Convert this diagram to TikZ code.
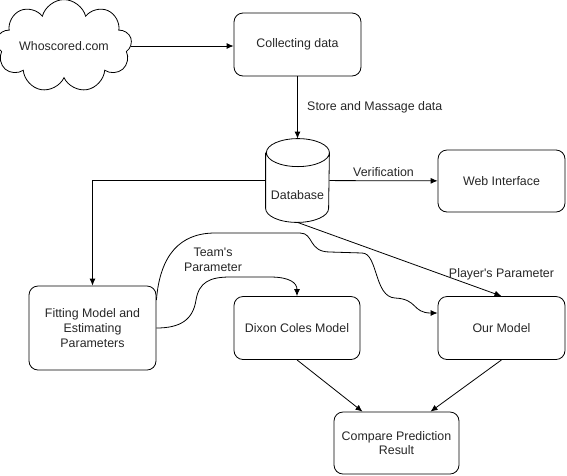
\documentclass[tikz,border=0pt]{standalone}
\usepackage{fontspec}
\setmainfont{Liberation Sans}
\usetikzlibrary{shapes.symbols,arrows.meta,positioning}

\begin{document}
\begin{tikzpicture}[x=1pt,y=1pt,>={Latex[length=7pt,width=6pt]},line width=.8pt,
  font=\fontsize{12.4}{14.8}\selectfont,
  box/.style={draw,rounded corners=9pt,minimum width=126pt,minimum height=63pt,align=center,text=black!85}]
\useasboundingbox (0,0) rectangle (567,-475);

\node[cloud,draw,cloud puffs=9,aspect=2,minimum width=128pt,minimum height=66pt,inner sep=0pt,text=black!85] (site) at (64,-46) {Whoscored.com};
\node[box,minimum width=127pt] (collect) at (297.5,-44.5) {Collecting data};
\node[minimum width=63pt,minimum height=83pt,inner sep=0pt] (db) at (297.5,-180.5) {};
\node[text=black!85] (dblabel) at (297.5,-195) {Database};
\node[box,minimum width=127pt,minimum height=62pt] (webui) at (501.5,-181) {Web Interface};
\node[box,minimum width=127pt,minimum height=84pt] (fit) at (92.5,-328) {Fitting Model and\\Estimating\\Parameters};
\node[box] (dixon) at (297,-328) {Dixon Coles Model};
\node[box,minimum width=127pt] (our) at (501.5,-328) {Our Model};
\node[box,minimum width=125pt,minimum height=62pt] (cmp) at (396.5,-443) {Compare Prediction\\Result};
\node[align=center,text=black!85] (teamlbl) at (213,-260) {Team\textquotesingle s\\Parameter};

% database cylinder
\draw ([yshift=-14pt]db.north west) -- ([yshift=14pt]db.south west)
  arc[start angle=180,end angle=360,x radius=31.5pt,y radius=14pt]
  -- ([yshift=-14pt]db.north east)
  arc[start angle=0,end angle=180,x radius=31.5pt,y radius=14pt]
  arc[start angle=180,end angle=360,x radius=31.5pt,y radius=14pt];

\draw[->] (site.east) -- (collect.west |- site.east);
\draw[->] (collect) -- (db) node[midway,right=6pt,text=black!85]{Store and Massage data};
\draw[->] (db) -- (webui) node[midway,above,text=black!85]{Verification};
\draw[->] (db.west) -| (fit.north);
\draw[->] (db.south) -- (our.north) node[pos=1,above=12pt,text=black!85]{Player\textquotesingle s Parameter};

\draw[->] (fit.east) .. controls (180,-328) and (193,-320) .. (196,-300)
  .. controls (199,-282) and (210,-277) .. (230,-277) -- (270,-277)
  .. controls (290,-277) and (297,-283) .. (dixon.north);
\draw[->] ([yshift=28pt]fit.east) .. controls (160,-255) and (180,-233) .. (215,-233) -- (300,-233)
  .. controls (314,-233) and (308,-252) .. (330,-252) -- (362,-253)
  .. controls (378,-253) and (374,-297) .. (395,-298)
  .. controls (418,-299) and (412,-313) .. ([yshift=15pt]our.west);

\draw[->] (dixon.south) -- ([xshift=-34pt]cmp.north);
\draw[->] (our.south) -- ([xshift=34pt]cmp.north);

\end{tikzpicture}
\end{document}
